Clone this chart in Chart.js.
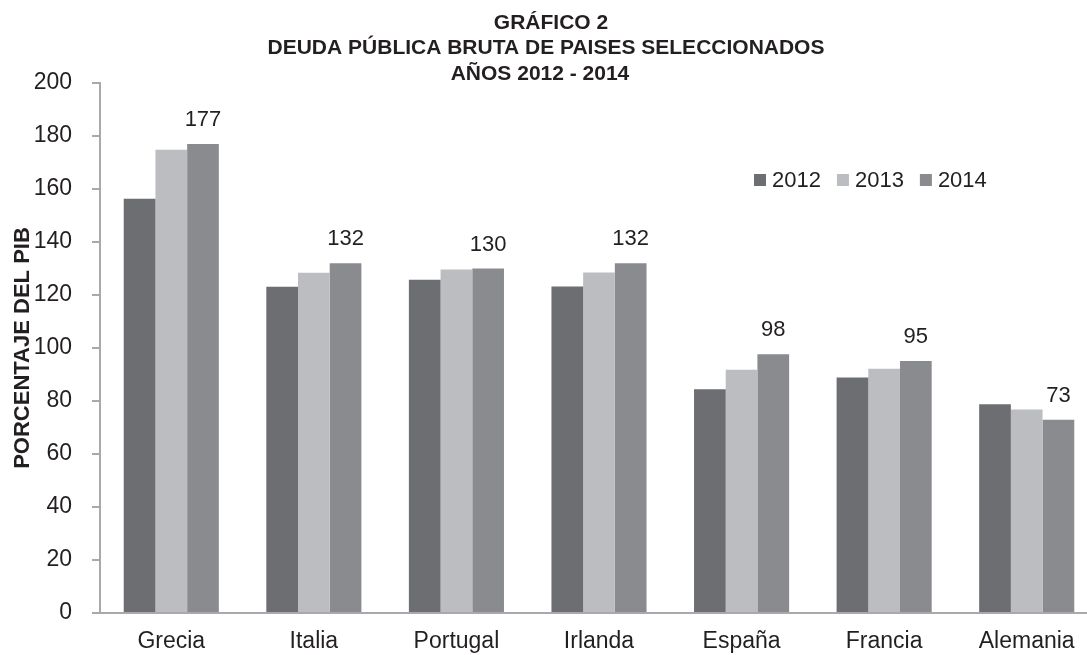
<!DOCTYPE html>
<html>
<head>
<meta charset="utf-8">
<script src="https://cdn.jsdelivr.net/npm/chart.js@4.4.1/dist/chart.umd.min.js"></script>
<style>
  html, body { margin: 0; padding: 0; background: #ffffff; overflow: hidden; }
  #outer { width: 1087px; height: 655px; overflow: hidden; position: relative; }
  #c { display: block; }
</style>
</head>
<body>
<div id="outer"><canvas id="c" width="1098" height="655"></canvas></div>
<script>
const categories = ["Grecia", "Italia", "Portugal", "Irlanda", "España", "Francia", "Alemania"];
const seriesNames = ["2012", "2013", "2014"];
const values2012 = [156.3, 123.1, 125.8, 123.2, 84.4, 88.9, 78.8];
const values2013 = [174.8, 128.4, 129.6, 128.5, 91.8, 92.2, 76.8];
const values2014 = [177, 132, 130, 132, 97.6, 95.1, 72.9];
const labels2014 = ["177", "132", "130", "132", "98", "95", "73"];
const seriesColors = ["#6d6e71", "#bcbdc0", "#8a8b8e"];
const yTicks = [0, 20, 40, 60, 80, 100, 120, 140, 160, 180, 200];
const titleLines = ["GRÁFICO 2", "DEUDA PÚBLICA BRUTA DE PAISES SELECCIONADOS", "AÑOS 2012 - 2014"];
const yAxisTitle = "PORCENTAJE DEL PIB";

const FONT = "'Liberation Sans', Arial, sans-serif";
const TEXT = "#231f20";
const AXIS = "#a7a9ac";

const titlePlugin = {
  id: 'customTitle',
  afterDraw(chart) {
    const ctx = chart.ctx;
    const xs = [551, 546, 540];
    const ys = [23, 48, 74];
    ctx.save();
    ctx.font = "bold 21px " + FONT;
    ctx.fillStyle = TEXT;
    ctx.textAlign = "center";
    ctx.textBaseline = "middle";
    titleLines.forEach((t, i) => ctx.fillText(t, xs[i], ys[i]));
    ctx.restore();
  }
};

const dataLabelPlugin = {
  id: 'dataLabels2014',
  afterDatasetsDraw(chart) {
    const ctx = chart.ctx;
    const meta = chart.getDatasetMeta(2);
    ctx.save();
    ctx.font = "22px " + FONT;
    ctx.fillStyle = TEXT;
    ctx.textAlign = "center";
    ctx.textBaseline = "middle";
    meta.data.forEach((bar, i) => {
      ctx.fillText(labels2014[i], bar.x, bar.y - 24);
    });
    ctx.restore();
  }
};

const legendPlugin = {
  id: 'customLegend',
  afterDraw(chart) {
    const ctx = chart.ctx;
    const x0 = 754, y0 = 180;
    ctx.save();
    ctx.font = "22px " + FONT;
    ctx.textBaseline = "middle";
    ctx.textAlign = "left";
    let x = x0;
    chart.data.datasets.forEach((ds) => {
      ctx.fillStyle = ds.backgroundColor;
      ctx.fillRect(x, y0 - 6, 12, 12);
      ctx.fillStyle = TEXT;
      ctx.fillText(ds.label, x + 18, y0 + 1);
      x += 18 + ctx.measureText(ds.label).width + 16;
    });
    ctx.restore();
  }
};

new Chart(document.getElementById('c'), {
  type: 'bar',
  data: {
    labels: categories,
    datasets: [
      { label: seriesNames[0], data: values2012, backgroundColor: seriesColors[0] },
      { label: seriesNames[1], data: values2013, backgroundColor: seriesColors[1] },
      { label: seriesNames[2], data: values2014, backgroundColor: seriesColors[2] }
    ]
  },
  options: {
    responsive: false,
    maintainAspectRatio: false,
    animation: false,
    devicePixelRatio: 1,
    layout: { padding: { top: 83, right: 0, left: 0, bottom: 0 } },
    datasets: {
      bar: {
        categoryPercentage: 0.667,
        barPercentage: 1.0,
        borderWidth: 0
      }
    },
    plugins: {
      legend: { display: false },
      tooltip: { enabled: false },
      title: { display: false }
    },
    scales: {
      x: {
        afterFit(axis) { axis.height = 42; },
        grid: { display: false, drawTicks: false },
        border: { display: true, color: AXIS, width: 2 },
        ticks: { color: TEXT, font: { family: FONT, size: 23 }, padding: 15, maxRotation: 0, autoSkip: false }
      },
      y: {
        min: 0, max: 200,
        afterFit(axis) { axis.width = 100; },
        afterBuildTicks(axis) { axis.ticks = yTicks.map(v => ({ value: v })); },
        grid: { display: true, drawOnChartArea: false, drawTicks: true, tickLength: 8, color: AXIS, lineWidth: 2 },
        border: { display: true, color: AXIS, width: 2 },
        ticks: { color: TEXT, font: { family: FONT, size: 23 }, padding: 20 },
        title: {
          display: true,
          text: yAxisTitle,
          color: TEXT,
          font: { family: FONT, size: 22, weight: 'bold', lineHeight: 1.2 },
          padding: { top: 10, bottom: 0 }
        }
      }
    }
  },
  plugins: [dataLabelPlugin, legendPlugin, titlePlugin]
});
</script>
</body>
</html>
